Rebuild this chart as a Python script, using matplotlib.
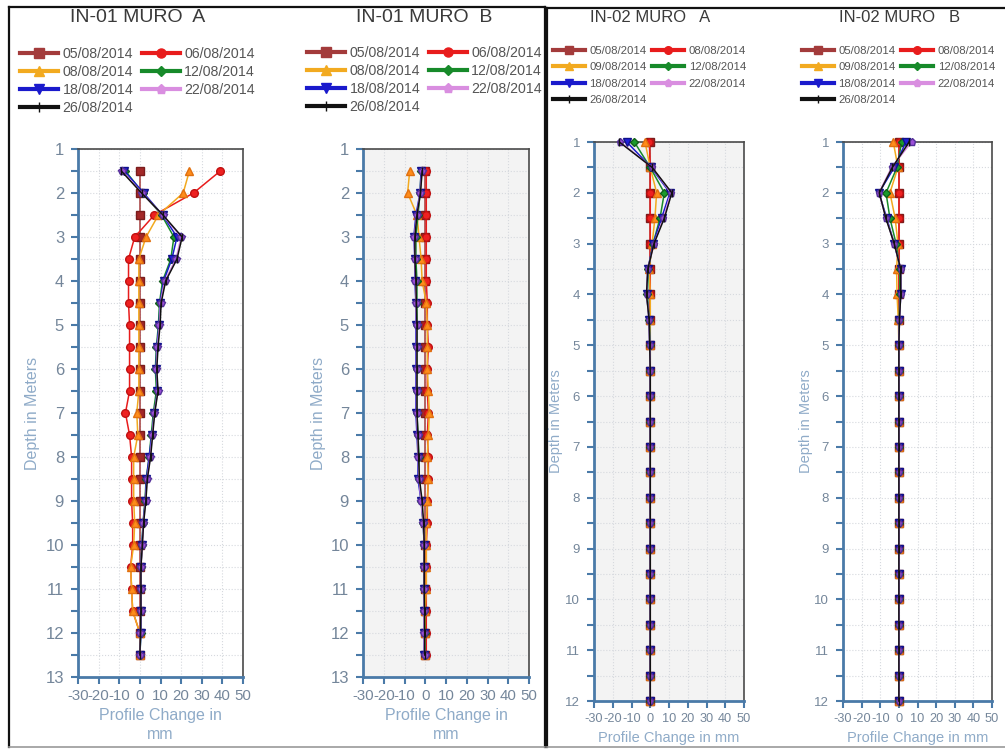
import numpy as np
import matplotlib
matplotlib.use("Agg")
import matplotlib.pyplot as plt
from matplotlib.lines import Line2D
from matplotlib.ticker import MultipleLocator

plt.rcParams['font.family'] = ['Liberation Sans', 'DejaVu Sans']
plt.rcParams['axes.unicode_minus'] = False

# ---------------------------------------------------------------- data
depth_in01 = [1.5, 2.0, 2.5, 3.0, 3.5, 4.0, 4.5, 5.0, 5.5, 6.0, 6.5, 7.0,
              7.5, 8.0, 8.5, 9.0, 9.5, 10.0, 10.5, 11.0, 11.5, 12.0, 12.5]
depth_in02 = [1.0, 1.5, 2.0, 2.5, 3.0, 3.5, 4.0, 4.5, 5.0, 5.5, 6.0, 6.5,
              7.0, 7.5, 8.0, 8.5, 9.0, 9.5, 10.0, 10.5, 11.0, 11.5, 12.0]

dates_in01 = ["05/08/2014", "06/08/2014", "08/08/2014", "12/08/2014",
              "18/08/2014", "22/08/2014", "26/08/2014"]
dates_in02 = ["05/08/2014", "08/08/2014", "09/08/2014", "12/08/2014",
              "18/08/2014", "22/08/2014", "26/08/2014"]

# IN-01 MURO A  (mm)
in01a_0508 = [0] * 23
in01a_0608 = [39, 26, 7, -2.5, -5.5, -5.5, -5.5, -5, -5, -5, -5, -7, -5, -4, -4,
              -4, -3.5, -3.5, -4.5, -4, -3.5, 0, 0]
in01a_0808 = [24, 21, 9, 3, -0.5, -0.5, -0.5, -0.5, -0.5, -0.5, -0.5, -1.5, -1,
              -3, -3, -3, -2.5, -3, -4.5, -4, -3.5, 0, 0]
in01a_1208 = [-7, 1.5, 10.5, 16.5, 15, 11, 9.5, 9, 8, 7.5, 8, 6.5, 5.5, 4.5, 3,
              2.5, 1.5, 1, 0.5, 0.5, 0.5, 0.5, 0]
in01a_1808 = [-7.5, 1.8, 11, 18, 15.5, 11.5, 9.8, 9.3, 8.2, 7.8, 8.5, 7, 5.8,
              4.5, 3.2, 2.6, 1.6, 1, 0.5, 0.5, 0.5, 0.5, 0]
in01a_2208 = [-8.5, 1, 11, 20, 17.5, 12, 10, 9.5, 8.5, 8, 8.7, 7, 6, 5, 3.5,
              2.8, 1.7, 1.2, 0.5, 0.5, 0.5, 0.3, 0]
in01a_2608 = [-9, 0.8, 11.2, 20.5, 18, 12.5, 10.3, 9.8, 8.8, 8.2, 8.8, 7.2,
              6.2, 5.2, 3.6, 2.9, 1.8, 1.2, 0.5, 0.5, 0.5, 0.3, 0]

# IN-01 MURO B  (mm)
in01b_0508 = [0] * 23
in01b_0608 = [0.5, 0.5, 0.5, 0.5, 0.5, 0.5, 1, 1, 1.5, 1, 1, 1.5, 1, 1.5, 1.5,
              1, 1, 0.5, 0.5, 0.5, 0.5, 0.5, 0.5]
in01b_0808 = [-7.5, -8.5, -4, -3, -2, -1.5, 0.5, 1, 1, 1, 1.5, 2, 1.5, 1, 1.5,
              1, 0.5, 0.5, 0.5, 0.5, 0, 0, 0]
in01b_1208 = [-2, -2.5, -3.5, -4.5, -4.5, -4, -4, -4, -4, -4, -4, -4, -3.5, -3,
              -3, -2, -1, -0.5, -0.5, -0.5, -0.5, -0.3, 0]
in01b_1808 = [-2, -2.5, -4.5, -5.5, -5, -5, -4.5, -4.5, -4.5, -4.5, -4.5, -4.5,
              -4, -3.5, -3.5, -2, -1, -0.5, -0.5, -0.5, -0.5, -0.5, -0.5]
in01b_2208 = [-1.5, -2.5, -4, -5.3, -5, -4.7, -4.5, -4.2, -4.2, -4.2, -4.2, -4.2,
              -3.7, -3.4, -3, -2, -1, -0.5, -0.5, -0.5, -0.5, -0.5, -0.3]
in01b_2608 = [-1.5, -2.3, -4, -5, -5, -4.5, -4.3, -4, -4, -4, -4, -4, -3.5,
              -3.2, -2.8, -1.5, -0.8, -0.5, -0.5, -0.5, -0.3, -0.3, -0.3]

# IN-02 MURO A  (mm)
in02a_0508 = [0] * 23
in02a_0808 = [-0.5, 0, 0, 0, 0, 0, 0, 0, 0, 0, 0, 0, 0, 0, 0, 0, 0, 0, 0, 0,
              0, 0, 0]
in02a_0908 = [-2.8, 0, 3.4, 2.5, 1, -0.5, 0, 0, 0, 0, 0, 0, 0, 0, 0, 0, 0, 0,
              0, 0, 0, 0, 0]
in02a_1208 = [-8.5, 0, 7.5, 5.2, 1.5, -1, -1.5, -0.5, 0, 0, 0, 0, 0, 0, 0, 0,
              0, 0, 0, 0, 0, 0, 0]
in02a_1808 = [-12.5, 0.5, 10.5, 6, 1.6, -1.3, -1.9, -0.6, -0.3, 0, 0, 0, 0, 0,
              0, 0, 0, 0, 0, 0, 0, 0, 0]
in02a_2208 = [-16, 1, 11, 7, 2, -1.3, -1.9, -0.6, -0.3, 0, 0, 0, 0, 0, 0, 0,
              0, 0, 0, 0, 0, 0, 0]
in02a_2608 = [-16.5, 1, 11.5, 7.5, 2, -1.3, -2, -0.6, -0.3, 0, 0, 0, 0, 0, 0,
              0, 0, 0, 0, 0, 0, 0, 0]

# IN-02 MURO B  (mm)
in02b_0508 = [0] * 23
in02b_0808 = [0] * 23
in02b_0908 = [-3, -0.5, -4.8, -2, -0.5, -1.2, -1, -0.3, 0, 0, 0, 0, 0, 0, 0,
              0, 0, 0, 0, 0, 0, 0, 0]
in02b_1208 = [1.5, -1, -6.9, -4.8, -1.5, 0.5, 0.5, 0.2, 0, 0, 0, 0, 0, 0, 0,
              0, 0, 0, 0, 0, 0, 0, 0]
in02b_1808 = [3.8, -2.5, -10.7, -6.5, -2.5, 1, 1, 0.3, 0, 0, 0, 0, 0, 0, 0, 0,
              0, 0, 0, 0, 0, 0, 0]
in02b_2208 = [6.8, -3.9, -10.7, -6.9, -2.5, 1, 1, 0.3, 0, 0, 0, 0, 0, 0, 0, 0,
              0, 0, 0, 0, 0, 0, 0]
in02b_2608 = [5.5, -3.5, -10.5, -7, -2.5, 1, 1, 0.3, 0, 0, 0, 0, 0, 0, 0, 0,
              0, 0, 0, 0, 0, 0, 0]

x_ticks = [-30, -20, -10, 0, 10, 20, 30, 40, 50]

# ---------------------------------------------------------------- styles
# one style per reading slot (order of the legend)
styles = [
    dict(color='#a33b3b', marker='s', mfc='#a32828', mec='#7a1c1c', ms=5.5),
    dict(color='#e81c1c', marker='o', mfc='#ee2020', mec='#c01010', ms=5.5),
    dict(color='#f2aa20', marker='^', mfc='#ff8c1a', mec='#e07010', ms=5.5),
    dict(color='#178a2a', marker='D', mfc='#1a9a2a', mec='#106018', ms=4.2),
    dict(color='#1a1acc', marker='v', mfc='#2020d8', mec='#10108a', ms=5.5),
    dict(color='#d98ee0', marker='p', mfc='#9b4fd6', mec='#55309a', ms=5.5),
    dict(color='#111111', marker='|', mfc='#111111', mec='#111111', ms=5.5),
]
# legend is filled row by row (two entries per row)
legend_order = [0, 2, 4, 6, 1, 3, 5]

W, H = 1005, 749
fig = plt.figure(figsize=(W / 100, H / 100), dpi=100)


def rect(l, t, r, b):
    return [l / W, 1 - b / H, (r - l) / W, (b - t) / H]


def fx(x):
    return x / W


def fy(y):
    return 1 - y / H


LABEL_C = '#8fabc8'
TICK_C = '#74869a'
SPINE_C = '#4a7aa8'


def panel(box, title, title_x, title_fs, dates, depths, series, ymax,
          face, leg_xy, leg_fs, leg_kw, leg_ms, ylab_x, ylab_fs, xlabel,
          xlab_fs, xlab_pad, ytick_fs, xtick_fs, ms_scale=1.0):
    ax = fig.add_axes(rect(*box))
    ax.set_facecolor(face)
    for vals, st in zip(series, styles):
        ax.plot(vals, depths, color=st['color'], lw=1.1, marker=st['marker'],
                markerfacecolor=st['mfc'], markeredgecolor=st['mec'],
                markersize=st['ms'] * ms_scale, markeredgewidth=1.0,
                clip_on=False, zorder=3)
    ax.set_xlim(-30, 50)
    ax.set_ylim(ymax, 1)
    ax.set_xticks(x_ticks)
    ax.set_xticklabels([str(v) for v in x_ticks])
    ax.yaxis.set_major_locator(MultipleLocator(1))
    ax.yaxis.set_minor_locator(MultipleLocator(0.5))
    ax.grid(True, which='both', axis='y', color='#d6d9de', lw=0.8, ls=':')
    ax.grid(True, which='major', axis='x', color='#d6d9de', lw=0.8, ls=':')
    ax.set_axisbelow(True)
    for s in ('left', 'bottom'):
        ax.spines[s].set_color(SPINE_C)
        ax.spines[s].set_linewidth(2.0)
    for s in ('top', 'right'):
        ax.spines[s].set_color('#4a4a4a')
        ax.spines[s].set_linewidth(1.2)
    ax.tick_params(axis='both', which='both', direction='out', color=SPINE_C,
                   width=1.5, labelcolor=TICK_C)
    ax.tick_params(axis='y', which='major', length=5, pad=5,
                   labelsize=ytick_fs)
    ax.tick_params(axis='y', which='minor', length=5)
    ax.tick_params(axis='x', which='major', length=5, pad=4,
                   labelsize=xtick_fs)
    ax.tick_params(top=False, right=False, which='both')

    fig.text(fx(title_x), fy(18), title, ha='center', va='center',
             fontsize=title_fs, color='#3a3a3a')

    ax_mid = (box[1] + box[3]) / 2
    fig.text(fx(ylab_x), fy(ax_mid), 'Depth in Meters', rotation=90,
             ha='center', va='center', fontsize=ylab_fs, color=LABEL_C)
    ax.set_xlabel(xlabel, fontsize=xlab_fs, color=LABEL_C, labelpad=xlab_pad,
                  linespacing=1.35)

    handles = [Line2D([], [], color=st['color'], lw=3, marker=st['marker'],
                      markerfacecolor=st['color'], markeredgecolor=st['color'],
                      markersize=leg_ms * (0.8 if st['marker'] == 'D' else 1.0))
               for st in styles]
    ax.legend([handles[i] for i in legend_order],
              [dates[i] for i in legend_order],
              loc='upper left', ncol=2, frameon=False,
              bbox_to_anchor=(fx(leg_xy[0]), fy(leg_xy[1])),
              bbox_transform=fig.transFigure, borderpad=0, borderaxespad=0,
              fontsize=leg_fs, labelcolor='#555555', **leg_kw)
    return ax


leg_big = dict(handlelength=2.7, handletextpad=0.3, columnspacing=0.6,
               labelspacing=0.28)
leg_small = dict(handlelength=2.8, handletextpad=0.4, columnspacing=0.5,
                 labelspacing=0.55)

panel((78, 149, 243, 677), 'IN-01 MURO  A', 138, 14, dates_in01, depth_in01,
      [in01a_0508, in01a_0608, in01a_0808, in01a_1208, in01a_1808,
       in01a_2208, in01a_2608], 13, 'white', (20, 47), 10.2, leg_big, 6.5,
      33, 11.5, 'Profile Change in\nmm', 11.5, 3, 12, 10.8)
panel((363, 149, 529, 677), 'IN-01 MURO  B', 424, 14, dates_in01, depth_in01,
      [in01b_0508, in01b_0608, in01b_0808, in01b_1208, in01b_1808,
       in01b_2208, in01b_2608], 13, '#f3f3f3', (307, 46), 10.2, leg_big, 6.5,
      318, 11.5, 'Profile Change in\nmm', 11.5, 3, 12, 10.8)
panel((594, 142, 744, 701), 'IN-02 MURO   A', 650, 12, dates_in02, depth_in02,
      [in02a_0508, in02a_0808, in02a_0908, in02a_1208, in02a_1808,
       in02a_2208, in02a_2608], 12, '#f3f3f3', (553, 46), 8.2, leg_small, 5.5,
      556, 10.5, 'Profile Change in mm', 10.5, 4, 9.5, 9.2, ms_scale=0.95)
panel((843, 142, 992, 701), 'IN-02 MURO   B', 900, 12, dates_in02, depth_in02,
      [in02b_0508, in02b_0808, in02b_0908, in02b_1208, in02b_1808,
       in02b_2208, in02b_2608], 12, 'white', (802, 46), 8.2, leg_small, 5.5,
      806, 10.5, 'Profile Change in mm', 10.5, 4, 9.5, 9.2, ms_scale=0.95)


# frames around the two instrument groups
def fline(x0, y0, x1, y1, color='#111111', lw=1.6):
    fig.add_artist(Line2D([fx(x0), fx(x1)], [fy(y0), fy(y1)], color=color,
                          lw=lw, transform=fig.transFigure))


fline(9, 7, 545, 7)
fline(9, 7, 9, 747)
fline(545, 7, 545, 747)
fline(9, 747, 545, 747, color='#9a9a9a', lw=1.2)
fline(547, 8, 1005, 8)
fline(547, 8, 547, 747)
fline(547, 747, 1005, 747, color='#9a9a9a', lw=1.2)

fig.savefig('out.png', dpi=100)
